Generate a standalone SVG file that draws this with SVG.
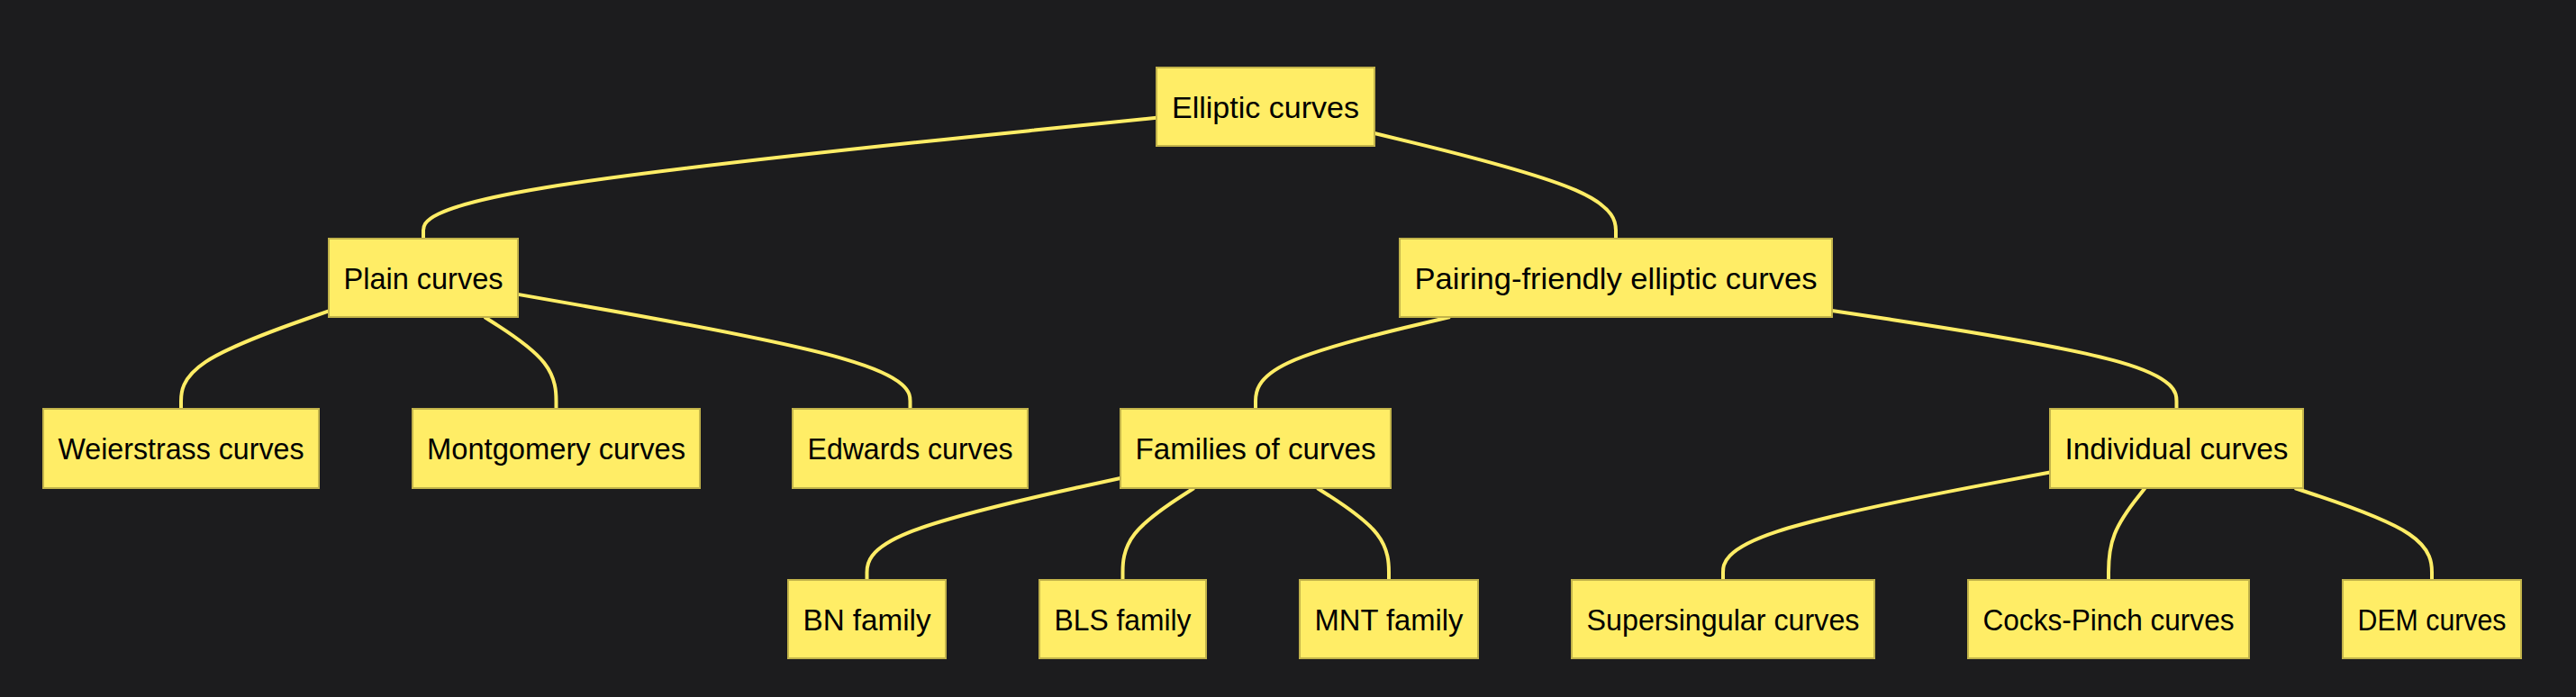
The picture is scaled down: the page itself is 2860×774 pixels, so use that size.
<svg xmlns="http://www.w3.org/2000/svg" width="2860" height="774" viewBox="0 0 2860 774">
<style>
.node rect{fill:#ffed66;stroke:#c2b34a;stroke-width:2}
.node text{font-family:"Liberation Sans",Arial,sans-serif;font-size:34px;fill:#000;text-anchor:middle}
.edges path{fill:none;stroke:#ffed66;stroke-width:4}
</style>
<rect x="0" y="0" width="2860" height="774" fill="#1c1c1e"/>
<g class="edges">
<path d="M1284,130.8 L1148.3,144.6 C1012.7,158.4 741.3,185.9 605.7,208.3 C470,230.7 470,247.8 470,256.4 L470,265"/>
<path d="M1526,148 L1570.7,158.9 C1615.3,169.8 1704.7,191.7 1749.3,211.2 C1794,230.7 1794,247.8 1794,256.4 L1794,265"/>
<path d="M365,345.4 L337.7,355 C310.3,364.6 255.7,383.8 228.3,401.9 C201,420 201,437 201,445.5 L201,454"/>
<path d="M537.9,352 L551.2,360.5 C564.4,369 591,386 604.2,403 C617.5,420 617.5,437 617.5,445.5 L617.5,454"/>
<path d="M575,326.9 L647.6,339.6 C720.2,352.3 865.3,377.6 937.9,398.8 C1010.5,420 1010.5,437 1010.5,445.5 L1010.5,454"/>
<path d="M1609.9,352 L1573.9,360.5 C1537.9,369 1466,386 1430,403 C1394,420 1394,437 1394,445.5 L1394,454"/>
<path d="M2034,344.9 L2097.8,354.6 C2161.5,364.3 2289,383.6 2352.8,401.8 C2416.5,420 2416.5,437 2416.5,445.5 L2416.5,454"/>
<path d="M1244,531 L1197.1,541.3 C1150.2,551.7 1056.3,572.3 1009.4,591.2 C962.5,610 962.5,627 962.5,635.5 L962.5,644"/>
<path d="M1325.7,542 L1312.5,550.5 C1299.3,559 1272.9,576 1259.7,593 C1246.5,610 1246.5,627 1246.5,635.5 L1246.5,644"/>
<path d="M1462.5,542 L1475.8,550.5 C1489,559 1515.5,576 1528.8,593 C1542,610 1542,627 1542,635.5 L1542,644"/>
<path d="M2276,524.5 L2215.5,535.9 C2155,547.3 2034,570.2 1973.5,590.1 C1913,610 1913,627 1913,635.5 L1913,644"/>
<path d="M2381.5,542 L2374.8,550.5 C2368,559 2354.5,576 2347.8,593 C2341,610 2341,627 2341,635.5 L2341,644"/>
<path d="M2547.8,542 L2573.2,550.5 C2598.5,559 2649.3,576 2674.6,593 C2700,610 2700,627 2700,635.5 L2700,644"/>
</g>
<g id="elliptic" class="node"><rect x="1284" y="75" width="242" height="87"/><text x="1405" y="130.5" textLength="208" lengthAdjust="spacingAndGlyphs">Elliptic curves</text></g>
<g id="plain" class="node"><rect x="365" y="265" width="210" height="87"/><text x="470" y="320.5" textLength="177" lengthAdjust="spacingAndGlyphs">Plain curves</text></g>
<g id="pairing" class="node"><rect x="1554" y="265" width="480" height="87"/><text x="1794" y="320.5" textLength="447" lengthAdjust="spacingAndGlyphs">Pairing-friendly elliptic curves</text></g>
<g id="weierstrass" class="node"><rect x="48" y="454" width="306" height="88"/><text x="201" y="510" textLength="273" lengthAdjust="spacingAndGlyphs">Weierstrass curves</text></g>
<g id="montgomery" class="node"><rect x="458" y="454" width="319" height="88"/><text x="617.5" y="510" textLength="287" lengthAdjust="spacingAndGlyphs">Montgomery curves</text></g>
<g id="edwards" class="node"><rect x="880" y="454" width="261" height="88"/><text x="1010.5" y="510" textLength="228" lengthAdjust="spacingAndGlyphs">Edwards curves</text></g>
<g id="families" class="node"><rect x="1244" y="454" width="300" height="88"/><text x="1394" y="510" textLength="267" lengthAdjust="spacingAndGlyphs">Families of curves</text></g>
<g id="individual" class="node"><rect x="2276" y="454" width="281" height="88"/><text x="2416.5" y="510" textLength="248" lengthAdjust="spacingAndGlyphs">Individual curves</text></g>
<g id="bn" class="node"><rect x="875" y="644" width="175" height="87"/><text x="962.5" y="699.5" textLength="142" lengthAdjust="spacingAndGlyphs">BN family</text></g>
<g id="bls" class="node"><rect x="1154" y="644" width="185" height="87"/><text x="1246.5" y="699.5" textLength="152" lengthAdjust="spacingAndGlyphs">BLS family</text></g>
<g id="mnt" class="node"><rect x="1443" y="644" width="198" height="87"/><text x="1542" y="699.5" textLength="165" lengthAdjust="spacingAndGlyphs">MNT family</text></g>
<g id="supersingular" class="node"><rect x="1745" y="644" width="336" height="87"/><text x="1913" y="699.5" textLength="303" lengthAdjust="spacingAndGlyphs">Supersingular curves</text></g>
<g id="cockspinch" class="node"><rect x="2185" y="644" width="312" height="87"/><text x="2341" y="699.5" textLength="279" lengthAdjust="spacingAndGlyphs">Cocks-Pinch curves</text></g>
<g id="dem" class="node"><rect x="2601" y="644" width="198" height="87"/><text x="2700" y="699.5" textLength="165" lengthAdjust="spacingAndGlyphs">DEM curves</text></g>
</svg>
